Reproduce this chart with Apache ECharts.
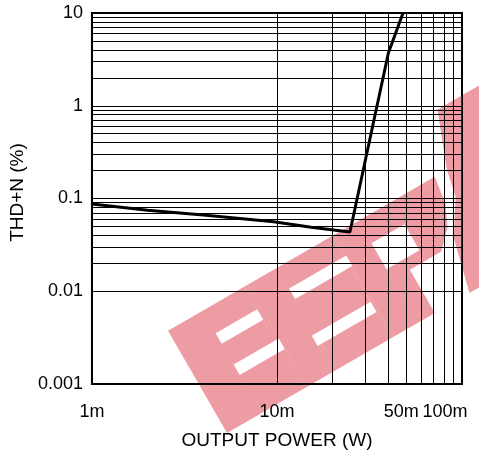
<!DOCTYPE html>
<html>
<head>
<meta charset="utf-8">
<script src="https://cdn.jsdelivr.net/npm/echarts@6/dist/echarts.min.js"></script>
<style>
html,body{margin:0;padding:0;background:#fff;}
#chart{width:479px;height:462px;}
</style>
</head>
<body>
<div id="chart"></div>
<script>
// ---- data ----
const powerW = [0.001, 0.002, 0.004, 0.0096, 0.0153, 0.0248, 0.040, 0.048];
const thdPct = [0.087, 0.0745, 0.0665, 0.056, 0.049, 0.0435, 3.7, 10];

const xTickValues = [0.001, 0.01, 0.05, 0.1];
const xTickLabels = ['1m', '10m', '50m', '100m'];
const yTickValues = [0.001, 0.01, 0.1, 1, 10];
const yTickLabels = ['0.001', '0.01', '0.1', '1', '10'];

const xMinorGrid = [0.002, 0.003, 0.004, 0.005, 0.006, 0.007, 0.008, 0.009,
                    0.02, 0.03, 0.04, 0.05, 0.06, 0.07, 0.08, 0.09];
const yMinorGrid = [0.002, 0.003, 0.004, 0.005, 0.006, 0.007, 0.008, 0.009,
                    0.02, 0.03, 0.04, 0.05, 0.06, 0.07, 0.08, 0.09,
                    0.2, 0.3, 0.4, 0.5, 0.6, 0.7, 0.8, 0.9,
                    2, 3, 4, 5, 6, 7, 8, 9];

const FONT = '"Liberation Sans", Arial, sans-serif';

function indexOfTick(values, v) {
  for (let i = 0; i < values.length; i++) {
    if (Math.abs(Math.log10(v) - Math.log10(values[i])) < 1e-6) return i;
  }
  return -1;
}

const chart = echarts.init(document.getElementById('chart'), null, {renderer: 'canvas'});

const gridMarks = xMinorGrid.map(v => ({xAxis: v})).concat(yMinorGrid.map(v => ({yAxis: v})));

// watermark pieces (decoration, local band coords: [u0,u1,v0,v1])
const wmRects = [
  [0, 40, 0, 118],
  [40, 88, 0, 44], [40, 88, 56, 80], [40, 88, 92, 118],
  [88, 92, 0, 44], [88, 92, 56, 118],
  [92, 122, 0, 118],
  [122, 126, 0, 30], [122, 126, 42, 118],
  [126, 190, 0, 30], [126, 190, 42, 82], [126, 190, 94, 118],
  [190, 192, 0, 82], [190, 192, 94, 118],
  [192, 220, 0, 118],
  [220, 240, 0, 62], [220, 240, 92, 118],
  [240, 258, 50, 62], [240, 258, 92, 118]
];
const wmPolys = [
  [[258, 50], [276, 50], [294, 68], [304, 90], [308, 118], [258, 118]],
  [[280, 0], [470, 0], [470, 175], [344, 175], [322, 118], [316, 90], [294, 56]]
];
const WM_FILL = 'rgba(215,35,50,0.45)';
const wmChildren = wmRects.map(r => ({
  type: 'rect',
  shape: {x: r[0], y: -r[3], width: r[1] - r[0], height: r[3] - r[2]},
  style: {fill: WM_FILL}
})).concat(wmPolys.map(p => ({
  type: 'polygon',
  shape: {points: p.map(q => [q[0], -q[1]])},
  style: {fill: WM_FILL}
})));

chart.setOption({
  animation: false,
  backgroundColor: '#fff',
  grid: {left: 89, top: 13, right: 17, bottom: 78, show: true,
         borderColor: '#000', borderWidth: 2, backgroundColor: 'transparent'},
  xAxis: {
    type: 'log', logBase: 10, min: 0.001, max: 0.1,
    name: 'OUTPUT POWER (W)', nameLocation: 'middle', nameGap: 47,
    nameTextStyle: {fontFamily: FONT, fontSize: 19, color: '#000'},
    axisLine: {show: true, lineStyle: {color: '#000', width: 2}},
    axisTick: {show: false},
    axisLabel: {
      customValues: xTickValues,
      showMaxLabel: true, showMinLabel: true, hideOverlap: false,
      formatter: function (v) {
        const i = indexOfTick(xTickValues, v);
        if (i < 0) return '';
        if (i === 2) return '{m|' + xTickLabels[i] + '}';
        if (i === 3) return '{r|' + xTickLabels[i] + '}';
        return xTickLabels[i];
      },
      rich: {
        m: {fontFamily: FONT, fontSize: 18, color: '#000', padding: [0, 10, 0, 0]},
        r: {fontFamily: FONT, fontSize: 18, color: '#000', padding: [0, 34, 0, 0]}
      },
      fontFamily: FONT, fontSize: 18, color: '#000', margin: 19
    },
    splitLine: {show: true, lineStyle: {color: '#000', width: 1}}
  },
  yAxis: {
    type: 'log', logBase: 10, min: 0.001, max: 10,
    name: 'THD+N (%)', nameLocation: 'middle', nameGap: 63,
    nameTextStyle: {fontFamily: FONT, fontSize: 19, color: '#000', padding: [0, 0, 0, 12]},
    axisLine: {show: true, lineStyle: {color: '#000', width: 2}},
    axisTick: {show: false},
    axisLabel: {
      formatter: function (v) {
        const i = indexOfTick(yTickValues, v);
        return i < 0 ? '' : yTickLabels[i];
      },
      fontFamily: FONT, fontSize: 18, color: '#000', margin: 9
    },
    splitLine: {show: true, lineStyle: {color: '#000', width: 1}}
  },
  series: [{
    type: 'line',
    data: powerW.map((p, i) => [p, thdPct[i]]),
    showSymbol: false, symbol: 'none',
    lineStyle: {color: '#000', width: 3},
    z: 5,
    markLine: {
      silent: true, symbol: ['none', 'none'], label: {show: false},
      lineStyle: {color: '#000', width: 1, type: 'solid'},
      emphasis: {disabled: true},
      data: gridMarks
    }
  }],
  graphic: [{
    type: 'group', x: 227, y: 433, rotation: Math.PI / 6, z: 100, silent: true,
    children: wmChildren
  }]
});
</script>
</body>
</html>
